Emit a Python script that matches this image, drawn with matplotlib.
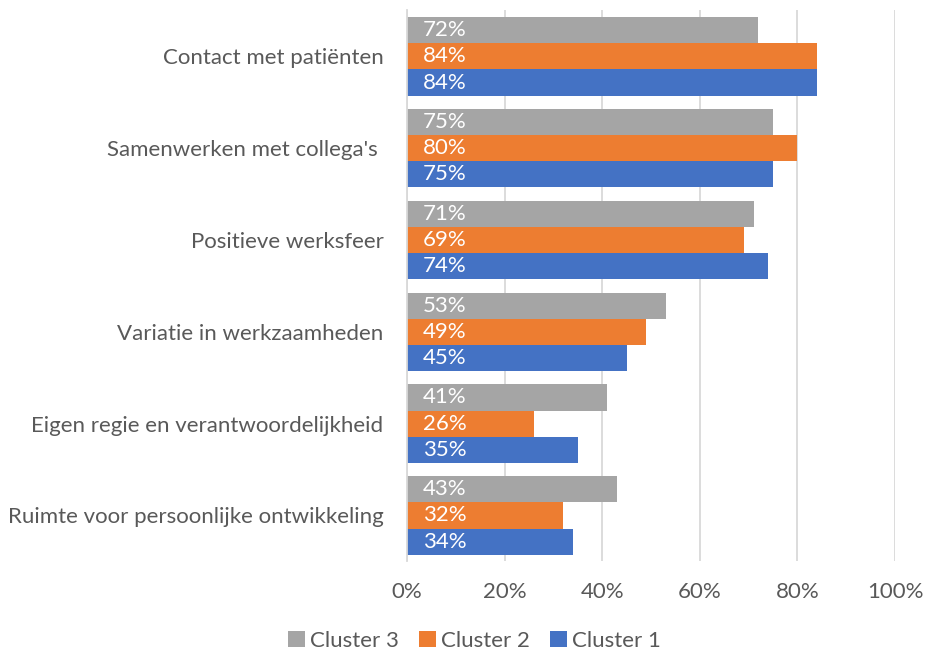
import numpy as np
import matplotlib.pyplot as plt
from matplotlib.ticker import FuncFormatter

# ── Data ─────────────────────────────────────────────────────────────────────
categories = [
    "Contact met patiënten",
    "Samenwerken met collega's ",
    "Positieve werksfeer",
    "Variatie in werkzaamheden",
    "Eigen regie en verantwoordelijkheid",
    "Ruimte voor persoonlijke ontwikkeling",
]
cluster3 = [72, 75, 71, 53, 41, 43]
cluster2 = [84, 80, 69, 49, 26, 32]
cluster1 = [84, 75, 74, 45, 35, 34]

series = [("Cluster 3", cluster3, "#A5A5A5"),
          ("Cluster 2", cluster2, "#ED7D31"),
          ("Cluster 1", cluster1, "#4472C4")]

# ── Style ────────────────────────────────────────────────────────────────────
plt.rcParams["font.family"] = ["Lato", "DejaVu Sans"]
TEXT_GREY = "#595959"
GRID_GREY = "#D9D9D9"
FS = 16
BAR_H = 0.285

fig = plt.figure(figsize=(9.25, 6.55), dpi=100)
ax = fig.add_axes([0.44, 0.143, 0.5276, 0.841])

y = np.arange(len(categories))
offsets = [-BAR_H, 0, BAR_H]

for (name, vals, color), off in zip(series, offsets):
    bars = ax.barh(y + off, vals, height=BAR_H, color=color, label=name, zorder=2)
    for b, v in zip(bars, vals):
        ax.text(3.2, b.get_y() + b.get_height() / 2, f"{v}%",
                color="white", fontsize=FS, va="center", ha="left", zorder=3)

ax.set_xlim(0, 100)
ax.set_ylim(len(categories) - 0.5, -0.5)
ax.set_xticks(np.arange(0, 101, 20))
ax.xaxis.set_major_formatter(FuncFormatter(lambda v, _: f"{v:.0f}%"))
ax.set_yticks(y)
ax.set_yticklabels(categories)

ax.tick_params(axis="both", length=0, colors=TEXT_GREY, labelsize=FS)
ax.tick_params(axis="y", pad=17)
ax.tick_params(axis="x", pad=15)

ax.grid(axis="x", color=GRID_GREY, linewidth=1.3, zorder=0)
for side in ["top", "right", "bottom"]:
    ax.spines[side].set_visible(False)
ax.spines["left"].set_color(GRID_GREY)
ax.spines["left"].set_linewidth(1.3)

leg = fig.legend(loc="lower center", bbox_to_anchor=(0.513, -0.024), ncol=3,
                 frameon=False, fontsize=FS, handlelength=0.75, handleheight=0.75,
                 handletextpad=0.25, columnspacing=0.9)
for t in leg.get_texts():
    t.set_color(TEXT_GREY)

fig.savefig("out.png", dpi=100)
